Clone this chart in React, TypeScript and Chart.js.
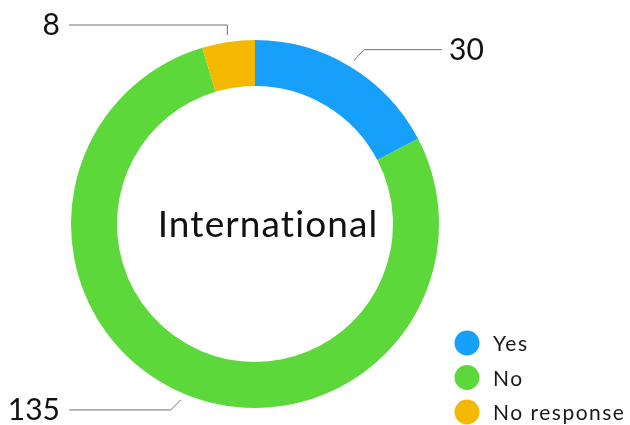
import React, { useEffect, useRef } from "react";
import { Chart, registerables } from "chart.js";

Chart.register(...registerables);

const categories = ["Yes", "No", "No response"];
const values = [30, 135, 8];
const colors = ["#16A0FB", "#5DD83A", "#F5B800"];
const centerTitle = "International";

const FONT = "Lato, 'Noto Sans', sans-serif";

const centerTextPlugin = {
  id: "centerText",
  afterDraw(chart: any) {
    const meta = chart.getDatasetMeta(0);
    const arc = meta.data[0];
    if (!arc) return;
    const { x, y } = arc.getProps(["x", "y"], true);
    const ctx = chart.ctx;
    ctx.save();
    ctx.font = `400 37px ${FONT}`;
    (ctx as any).letterSpacing = "1.1px";
    ctx.fillStyle = "#111";
    ctx.textAlign = "center";
    ctx.textBaseline = "alphabetic";
    ctx.fillText(centerTitle, x + 13, y + 13);
    ctx.restore();
  },
};

const leaderPlugin = {
  id: "leaders",
  afterDraw(chart: any) {
    const meta = chart.getDatasetMeta(0);
    const ctx = chart.ctx;
    const data = chart.data.datasets[0].data as number[];
    ctx.save();
    meta.data.forEach((arc: any, i: number) => {
      const p = arc.getProps(["x", "y", "startAngle", "endAngle", "outerRadius"], true);
      const mid = (p.startAngle + p.endAngle) / 2;
      const cos = Math.cos(mid);
      const sin = Math.sin(mid);
      const r0 = p.outerRadius + 7;
      const sx = p.x + cos * r0;
      const sy = p.y + sin * r0;
      let ex: number, ey: number;
      if (Math.abs(cos) < 0.3) {
        ex = sx;
        ey = sy + (sin < 0 ? -10 : 10);
      } else {
        ex = sx + (cos < 0 ? -10 : 10);
        ey = sy + (sin < 0 ? -11 : 10);
      }
      const right = cos >= 0;
      const hx = right ? p.x + p.outerRadius + 3 : p.x - p.outerRadius - 2;
      ctx.strokeStyle = "#707070";
      ctx.lineWidth = 1;
      ctx.beginPath();
      ctx.moveTo(sx, sy);
      ctx.lineTo(ex, ey);
      ctx.lineTo(hx, ey);
      ctx.stroke();
      ctx.font = `400 30px ${FONT}`;
      (ctx as any).letterSpacing = "0px";
      ctx.fillStyle = "#111";
      ctx.textBaseline = "alphabetic";
      ctx.textAlign = right ? "left" : "right";
      const tx = right ? p.x + p.outerRadius + 10 : p.x - p.outerRadius - 11;
      ctx.fillText(String(data[i]), tx, ey + 10);
    });
    ctx.restore();
  },
};

const legendPlugin = {
  id: "customLegend",
  afterDraw(chart: any) {
    const ctx = chart.ctx;
    const labels = chart.data.labels as string[];
    const bg = chart.data.datasets[0].backgroundColor as string[];
    const x0 = 467;
    const y0 = 343;
    const step = 34.5;
    ctx.save();
    labels.forEach((lab, i) => {
      const cy = y0 + i * step;
      ctx.fillStyle = bg[i];
      ctx.beginPath();
      ctx.arc(x0, cy, 12.5, 0, Math.PI * 2);
      ctx.fill();
      ctx.font = `400 21px ${FONT}`;
      (ctx as any).letterSpacing = "1.5px";
      ctx.fillStyle = "#1a1a1a";
      ctx.textAlign = "left";
      ctx.textBaseline = "alphabetic";
      ctx.fillText(lab, x0 + 26, cy + 8);
    });
    ctx.restore();
  },
};

export default function App() {
  const ref = useRef<HTMLCanvasElement | null>(null);
  useEffect(() => {
    if (!ref.current) return;
    const chart = new Chart(ref.current, {
      type: "doughnut",
      data: {
        labels: categories,
        datasets: [
          {
            data: values,
            backgroundColor: colors,
            borderWidth: 0,
            hoverOffset: 0,
          },
        ],
      },
      options: {
        animation: false,
        responsive: true,
        maintainAspectRatio: false,
        cutout: "75%",
        layout: { padding: { left: 71, right: 191, top: 40, bottom: 17 } },
        plugins: {
          legend: { display: false },
          tooltip: { enabled: false },
        },
      },
      plugins: [centerTextPlugin, leaderPlugin, legendPlugin],
    });
    return () => chart.destroy();
  }, []);
  return (
    <div style={{ position: "absolute", left: 0, top: 0, width: 630, height: 425, background: "#fff" }}>
      <canvas ref={ref} />
    </div>
  );
}
